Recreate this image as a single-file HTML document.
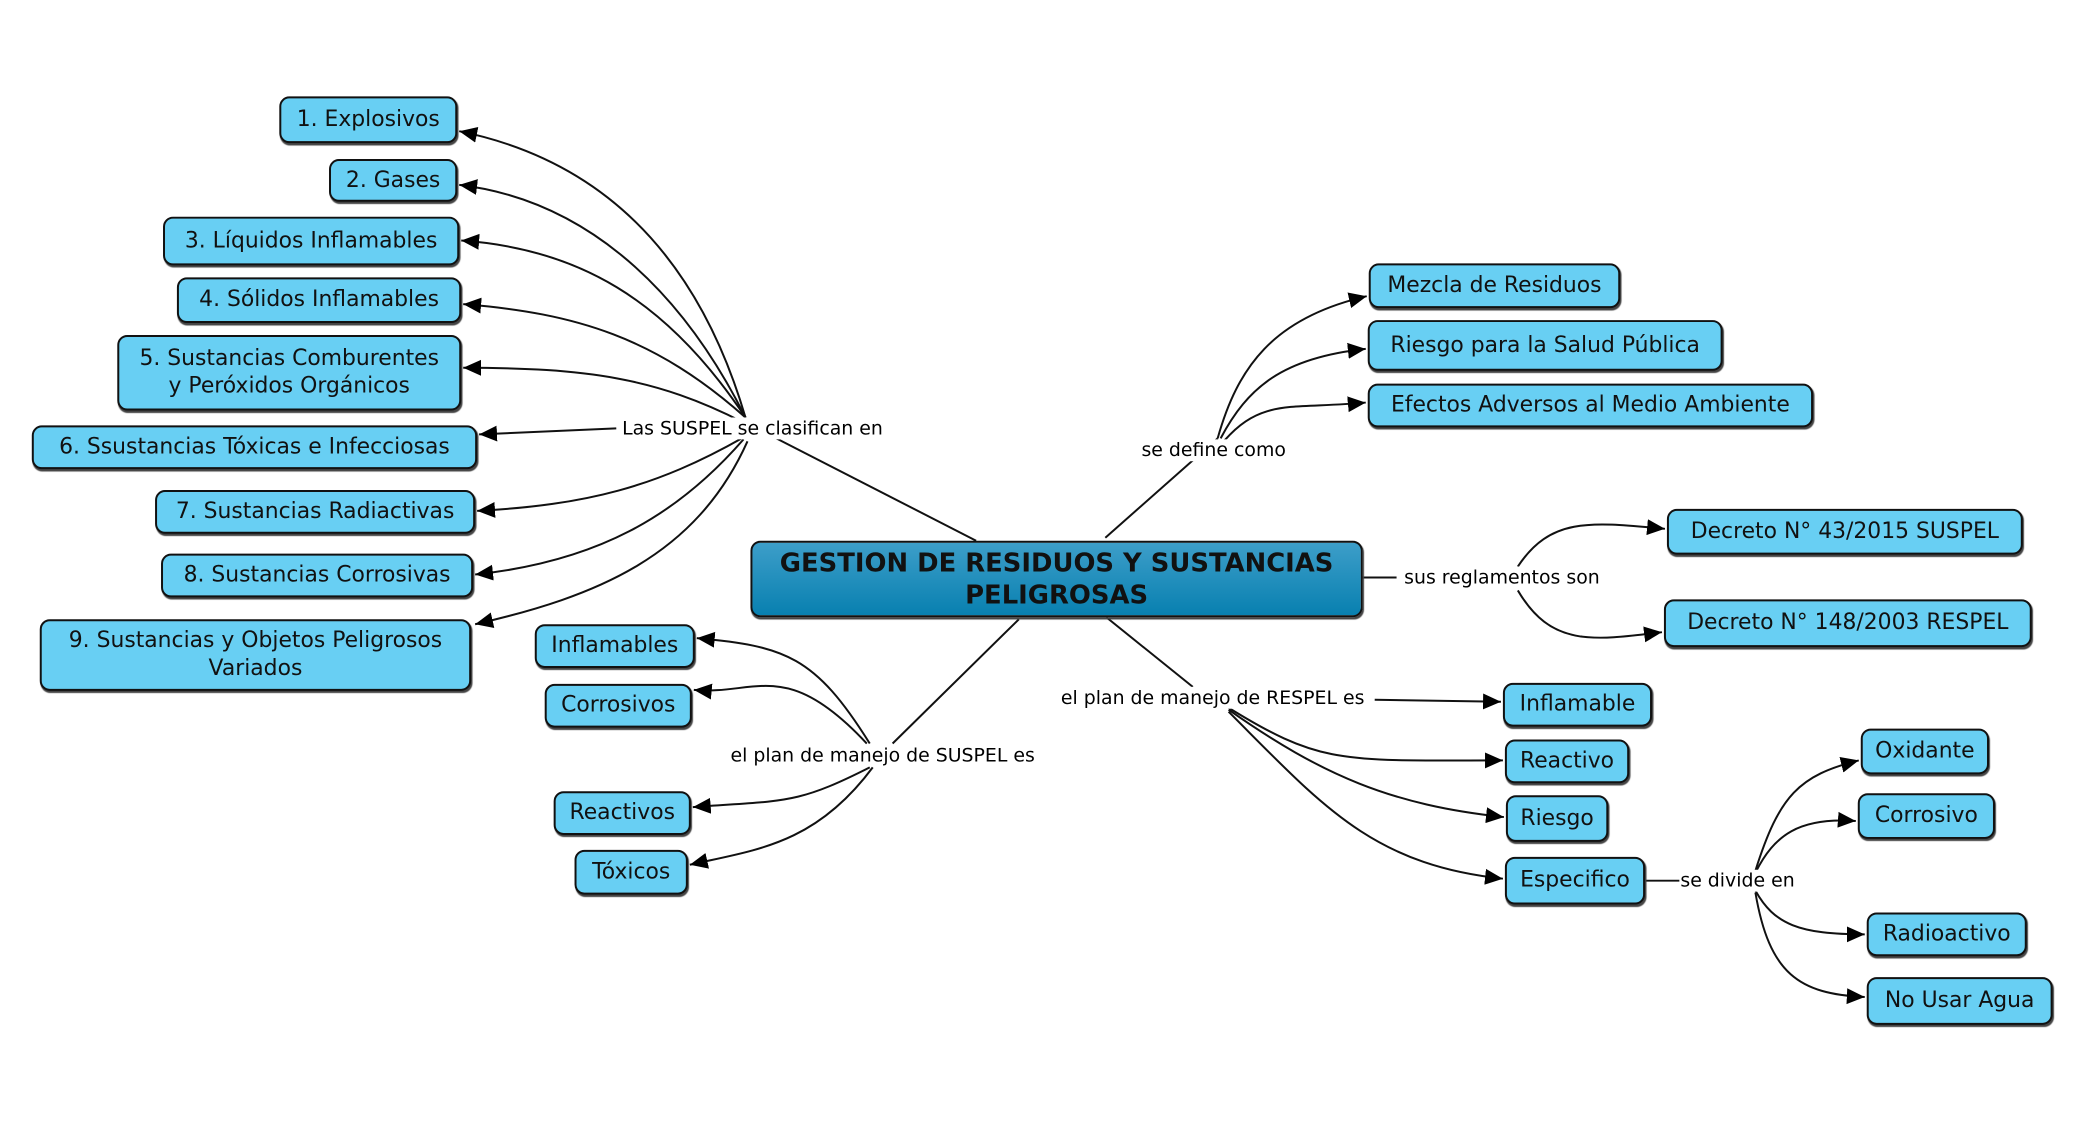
<!DOCTYPE html>
<html><head><meta charset="utf-8"><style>
body{margin:0;width:2084px;height:1122px;background:#fff;position:relative;overflow:hidden;font-family:"DejaVu Sans","Liberation Sans",sans-serif;}
#w{position:absolute;left:0;top:0;width:2084px;height:1122px;transform:scale(0.994);transform-origin:0 0;}
.n{position:absolute;box-sizing:border-box;background:#68cff3;border:2px solid #111;border-radius:10px;display:flex;align-items:center;justify-content:center;text-align:center;font-size:22px;line-height:28px;color:#111;box-shadow:1px 2px 1px #444;}
.c{background:linear-gradient(#3d9ec9,#0880b0);font-weight:bold;font-size:26px;line-height:32px;}
.l{position:absolute;font-size:19px;background:#fff;transform:translate(-50%,-50%);white-space:nowrap;padding:0 1px;line-height:22px;}
svg{position:absolute;left:0;top:0}
</style></head><body><div id="w">
<svg width="2084" height="1122" fill="none" stroke="#111" stroke-width="2">
<defs>
<marker id="b" markerWidth="20" markerHeight="20" refX="18" refY="10" orient="auto" markerUnits="userSpaceOnUse"><path d="M0,2L18,10L0,18z" fill="#000" stroke="none"/></marker></defs>
<path d="M781,441L982,544"/>
<path d="M750,420C700,250 600,160 462,132" marker-end="url(#b)"/>
<path d="M750,420C680,280 580,200 462,186" marker-end="url(#b)"/>
<path d="M750,420C670,300 580,250 464,242" marker-end="url(#b)"/>
<path d="M750,420C660,340 580,315 466,306" marker-end="url(#b)"/>
<path d="M748,425C660,380 590,370 466,370" marker-end="url(#b)"/>
<path d="M620,431L482,437" marker-end="url(#b)"/>
<path d="M748,440C660,490 590,508 480,514" marker-end="url(#b)"/>
<path d="M748,442C680,520 600,565 478,578" marker-end="url(#b)"/>
<path d="M752,444C700,560 600,600 478,628" marker-end="url(#b)"/>
<path d="M1112,541L1225,441"/>
<path d="M1225,441C1245,370 1280,320 1375,298" marker-end="url(#b)"/>
<path d="M1228,441C1255,390 1290,360 1374,351" marker-end="url(#b)"/>
<path d="M1232,443C1270,400 1300,412 1374,405" marker-end="url(#b)"/>
<path d="M1371,581L1405,581"/>
<path d="M1527,570C1560,520 1600,525 1675,532" marker-end="url(#b)"/>
<path d="M1527,594C1560,650 1600,645 1672,636" marker-end="url(#b)"/>
<path d="M1113,621L1200,691"/>
<path d="M1383,704L1510,706" marker-end="url(#b)"/>
<path d="M1236,712C1330,770 1350,765 1512,765" marker-end="url(#b)"/>
<path d="M1236,714C1330,780 1400,810 1513,822" marker-end="url(#b)"/>
<path d="M1236,716C1330,810 1380,870 1512,884" marker-end="url(#b)"/>
<path d="M1025,623L898,748"/>
<path d="M875,748C820,660 790,650 701,642" marker-end="url(#b)"/>
<path d="M872,748C790,660 760,700 698,694" marker-end="url(#b)"/>
<path d="M875,772C800,810 790,805 697,812" marker-end="url(#b)"/>
<path d="M878,772C820,850 760,855 694,870" marker-end="url(#b)"/>
<path d="M1655,886L1700,886"/>
<path d="M1766,876C1790,800 1810,780 1870,765" marker-end="url(#b)"/>
<path d="M1766,878C1785,840 1810,822 1867,826" marker-end="url(#b)"/>
<path d="M1766,896C1785,930 1810,940 1876,940" marker-end="url(#b)"/>
<path d="M1766,898C1780,980 1810,1000 1876,1003" marker-end="url(#b)"/>
</svg>
<div class="n" style="left:281px;top:97px;width:179px;height:47px">1. Explosivos</div>
<div class="n" style="left:331px;top:160px;width:129px;height:43px">2. Gases</div>
<div class="n" style="left:164px;top:218px;width:298px;height:49px">3. Líquidos Inflamables</div>
<div class="n" style="left:178px;top:279px;width:286px;height:46px">4. Sólidos Inflamables</div>
<div class="n" style="left:118px;top:337px;width:346px;height:76px">5. Sustancias Comburentes<br>y Peróxidos Orgánicos</div>
<div class="n" style="left:32px;top:428px;width:448px;height:44px">6. Ssustancias Tóxicas e Infecciosas</div>
<div class="n" style="left:156px;top:493px;width:322px;height:44px">7. Sustancias Radiactivas</div>
<div class="n" style="left:162px;top:557px;width:314px;height:44px">8. Sustancias Corrosivas</div>
<div class="n" style="left:40px;top:623px;width:434px;height:72px">9. Sustancias y Objetos Peligrosos<br>Variados</div>
<div class="n c" style="left:755px;top:544px;width:616px;height:77px">GESTION DE RESIDUOS Y SUSTANCIAS<br>PELIGROSAS</div>
<div class="n" style="left:1377px;top:265px;width:253px;height:45px">Mezcla de Residuos</div>
<div class="n" style="left:1376px;top:322px;width:357px;height:51px">Riesgo para la Salud Pública</div>
<div class="n" style="left:1376px;top:386px;width:448px;height:44px">Efectos Adversos al Medio Ambiente</div>
<div class="n" style="left:1677px;top:512px;width:358px;height:46px">Decreto N° 43/2015 SUSPEL</div>
<div class="n" style="left:1674px;top:603px;width:370px;height:48px">Decreto N° 148/2003 RESPEL</div>
<div class="n" style="left:538px;top:628px;width:161px;height:44px">Inflamables</div>
<div class="n" style="left:548px;top:688px;width:148px;height:44px">Corrosivos</div>
<div class="n" style="left:557px;top:796px;width:138px;height:44px">Reactivos</div>
<div class="n" style="left:578px;top:855px;width:114px;height:45px">Tóxicos</div>
<div class="n" style="left:1512px;top:687px;width:150px;height:44px">Inflamable</div>
<div class="n" style="left:1514px;top:744px;width:125px;height:44px">Reactivo</div>
<div class="n" style="left:1515px;top:800px;width:103px;height:47px">Riesgo</div>
<div class="n" style="left:1514px;top:862px;width:141px;height:48px">Especifico</div>
<div class="n" style="left:1872px;top:733px;width:129px;height:46px">Oxidante</div>
<div class="n" style="left:1869px;top:798px;width:138px;height:46px">Corrosivo</div>
<div class="n" style="left:1878px;top:918px;width:161px;height:44px">Radioactivo</div>
<div class="n" style="left:1878px;top:983px;width:187px;height:48px">No Usar Agua</div>
<div class="l" style="left:757px;top:431px">Las SUSPEL se clasifican en</div>
<div class="l" style="left:1221px;top:453px">se define como</div>
<div class="l" style="left:1511px;top:581px">sus reglamentos son</div>
<div class="l" style="left:1220px;top:702px">el plan de manejo de RESPEL es</div>
<div class="l" style="left:888px;top:760px">el plan de manejo de SUSPEL es</div>
<div class="l" style="left:1748px;top:886px">se divide en</div>
</div></body></html>
